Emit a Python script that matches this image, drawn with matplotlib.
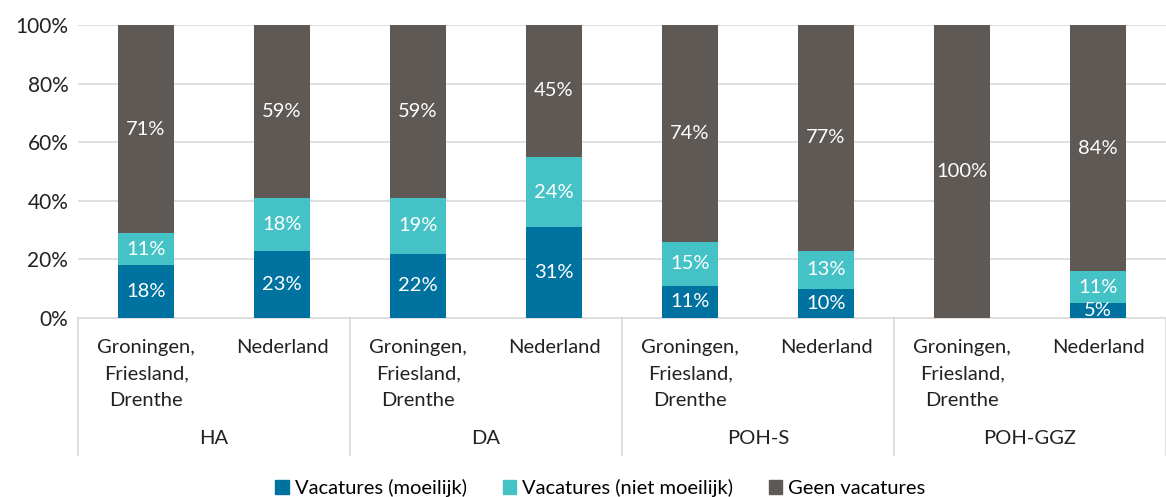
import matplotlib
matplotlib.use("Agg")
import matplotlib.pyplot as plt
import matplotlib.transforms as mtransforms
from matplotlib.lines import Line2D
import numpy as np

plt.rcParams['font.family'] = ['Lato', 'DejaVu Sans']

groups = ["HA", "DA", "POH-S", "POH-GGZ"]
regions = ["Groningen,\nFriesland,\nDrenthe", "Nederland"]
series_names = ["Vacatures (moeilijk)", "Vacatures (niet moeilijk)", "Geen vacatures"]
moeilijk = [18, 23, 22, 31, 11, 10, 0, 5]
niet_moeilijk = [11, 18, 19, 24, 15, 13, 0, 11]
geen = [71, 59, 59, 45, 74, 77, 100, 84]
yticks = [0, 20, 40, 60, 80, 100]

colors = ["#00729F", "#44C2C6", "#5E5955"]
grid_c = "#D9D9D9"
fs = 14.5

fig = plt.figure(figsize=(11.66, 4.97), dpi=100)
ax = fig.add_axes([78/1166, 1-318/497, 1-78/1166, (318-25)/497])

x = np.arange(len(moeilijk))
w = 0.405
bottom = np.zeros(len(x))
for vals, c in zip([moeilijk, niet_moeilijk, geen], colors):
    vals = np.array(vals, dtype=float)
    ax.bar(x, vals, w, bottom=bottom, color=c, zorder=3)
    for xi, b, v in zip(x, bottom, vals):
        if v > 0:
            ax.text(xi, b + v/2, f"{int(v)}%", ha='center', va='center',
                    color='white', fontsize=fs, zorder=4, clip_on=True)
    bottom += vals

ax.set_xlim(-0.5, len(x) - 0.5)
ax.set_ylim(0, 100)
ax.set_yticks(yticks)
ax.set_yticklabels([f"{t}%" for t in yticks], fontsize=15, color="#222222")
ax.tick_params(axis='y', length=0, pad=7)
ax.set_xticks([])
for t in yticks[1:]:
    ax.axhline(t, color=grid_c, lw=1.2, zorder=1)
for s in ['top', 'right', 'left']:
    ax.spines[s].set_visible(False)
ax.spines['bottom'].set_color(grid_c)
ax.spines['bottom'].set_linewidth(1.2)

trans = mtransforms.blended_transform_factory(ax.transData, ax.transAxes)
depth = -(455-318)/293
for k in range(len(groups) + 1):
    xs = -0.5 + 2*k
    ax.add_line(Line2D([xs, xs], [0, depth], transform=trans, color=grid_c,
                       lw=1.2, clip_on=False))

for i in x:
    ax.text(i, -0.071, regions[i % 2], transform=trans, ha='center', va='top',
            fontsize=fs, color="#222222", linespacing=1.68)
for k, g in enumerate(groups):
    ax.text(2*k + 0.5, -(438-318)/293, g, transform=trans, ha='center', va='center',
            fontsize=fs, color="#222222")

handles = [plt.Rectangle((0, 0), 1, 1, color=c) for c in colors]
fig.legend(handles, series_names, loc='center', bbox_to_anchor=(0.515, 1-488/497),
           ncol=3, frameon=False, fontsize=fs, handlelength=0.65, handleheight=0.65,
           handletextpad=0.3, columnspacing=1.8)

fig.savefig("out.png", dpi=100)
